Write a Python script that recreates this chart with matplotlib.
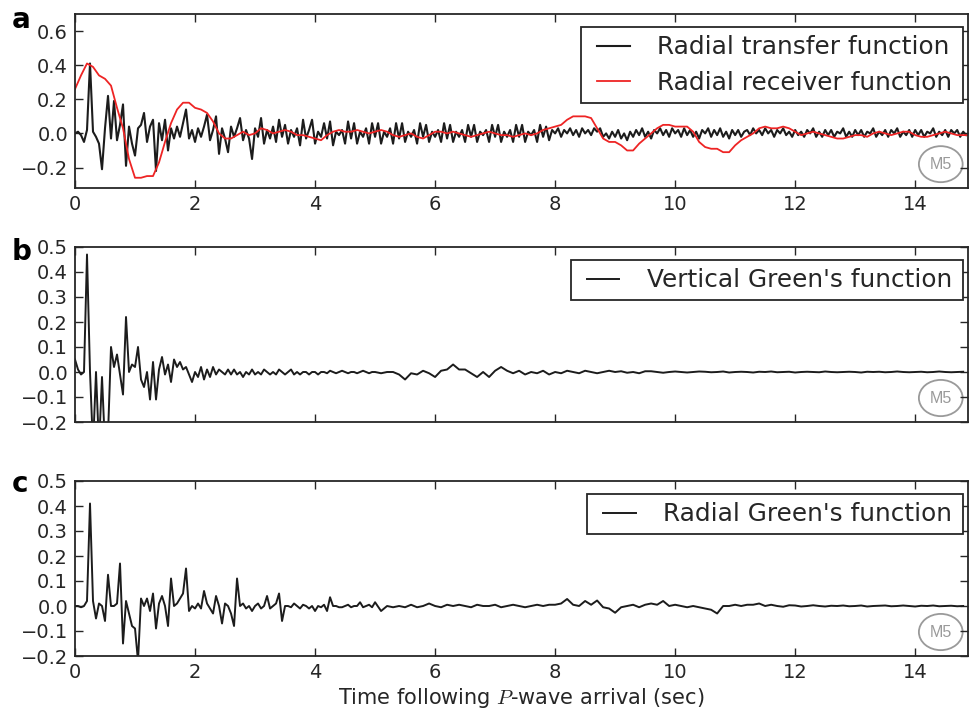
import numpy as np
import matplotlib
matplotlib.use("Agg")
import matplotlib.pyplot as plt
from matplotlib.patches import Ellipse
from matplotlib.path import Path
from matplotlib.lines import Line2D
from matplotlib.legend_handler import HandlerLine2D

# ---------------- data ----------------
# Panel a: radial transfer function, sampled every 0.05 s from 0 s
radial_transfer = [
    0.00, 0.01, -0.01, -0.05, 0.02, 0.41, 0.01, -0.02, -0.06, -0.21,
    0.03, 0.22, -0.03, 0.19, -0.04, 0.05, 0.17, -0.19, 0.04, -0.06,
    -0.13, 0.03, 0.05, 0.12, -0.05, 0.04, 0.08, -0.22, 0.06, -0.04,
    0.08, -0.10, 0.03, -0.03, 0.04, -0.02, 0.06, 0.14, -0.03, 0.02,
    -0.05, 0.03, -0.02, 0.04, 0.11, -0.04, 0.02, 0.10, -0.12, 0.03,
    -0.03, -0.11, 0.04, -0.02, 0.03, 0.09, -0.04, 0.02, -0.03, -0.15,
    0.03, -0.02, 0.09, -0.06, 0.02, -0.03, 0.04, -0.05, 0.08, -0.02,
    0.05, -0.06, 0.02, -0.02, 0.03, -0.07, 0.08, -0.03, 0.02, 0.08,
    -0.06, 0.01, -0.02, 0.06, -0.03, 0.07, -0.07, 0.01, -0.01, 0.02,
    -0.06, 0.07, -0.03, 0.06, -0.06, 0.01, -0.02, 0.03, -0.06, 0.06,
    -0.02, 0.06, -0.06, 0.01, -0.02, 0.03, -0.06, 0.06, -0.03, 0.06,
    -0.05, 0.01, -0.02, 0.02, -0.06, 0.06, -0.02, 0.05, -0.05, 0.01,
    -0.02, 0.02, -0.05, 0.06, -0.03, 0.05, -0.05, 0.01, -0.02, 0.02,
    -0.05, 0.05, -0.02, 0.05, -0.05, 0.01, -0.01, 0.02, -0.05, 0.05,
    -0.02, 0.05, -0.05, 0.01, -0.02, 0.02, -0.05, 0.05, -0.02, 0.05,
    -0.05, 0.01, -0.01, 0.02, -0.05, 0.05, -0.02, 0.04, -0.04, 0.02,
    0.00, 0.03, -0.02, 0.02, 0.00, 0.03, -0.01, 0.02, -0.02, 0.03,
    0.00, 0.02, -0.01, 0.03, 0.01, 0.03, -0.02, 0.00, -0.03, 0.01,
    -0.02, 0.02, -0.03, 0.00, -0.04, 0.01, -0.02, 0.02, -0.01, 0.03,
    -0.02, 0.01, -0.03, 0.02, 0.00, 0.03, -0.01, 0.02, -0.02, 0.03,
    0.00, 0.02, -0.02, 0.03, -0.01, 0.02, -0.02, 0.01, -0.03, 0.02,
    0.00, 0.03, -0.02, 0.02, -0.01, 0.03, -0.02, 0.01, -0.03, 0.02,
    -0.01, 0.02, -0.02, 0.01, 0.02, -0.01, 0.03, 0.00, 0.02, -0.01,
    0.03, 0.00, 0.02, -0.02, 0.02, 0.00, 0.03, -0.01, 0.01, -0.02,
    0.02, -0.01, 0.01, -0.02, 0.02, 0.00, 0.03, -0.02, 0.01, -0.02,
    0.02, -0.01, 0.02, -0.02, 0.01, 0.00, 0.03, -0.02, 0.01, -0.02,
    0.02, -0.01, 0.02, -0.02, 0.01, 0.00, 0.03, -0.02, 0.01, -0.01,
    0.02, -0.02, 0.02, 0.00, 0.03, -0.02, 0.01, -0.01, 0.02, -0.02,
    0.02, -0.01, 0.02, -0.02, 0.01, 0.00, 0.03, -0.02, 0.01, -0.01,
    0.02, -0.02, 0.02, 0.00, 0.02, -0.02, 0.01, -0.01,
]
transfer_dt = 0.05

# Panel a: radial receiver function, sampled every 0.1 s from 0 s
radial_receiver = [
    0.26, 0.34, 0.41, 0.39, 0.34, 0.32, 0.28, 0.15, 0.03, -0.15,
    -0.26, -0.26, -0.25, -0.25, -0.17, -0.05, 0.06, 0.14, 0.18, 0.18,
    0.15, 0.14, 0.12, 0.07, 0.00, -0.03, -0.03, -0.01, 0.01, -0.01,
    0.00, 0.03, 0.02, 0.00, 0.01, 0.02, 0.01, -0.01, -0.01, -0.02,
    -0.03, -0.04, -0.01, 0.01, 0.02, 0.01, 0.01, 0.02, 0.01, 0.00,
    0.01, 0.02, 0.01, -0.01, -0.02, -0.01, 0.00, -0.02, -0.03, -0.01,
    0.01, 0.01, 0.00, 0.01, 0.00, -0.01, -0.02, -0.01, 0.00, 0.01,
    0.00, -0.01, -0.01, -0.02, -0.01, 0.00, -0.01, 0.00, 0.02, 0.03,
    0.04, 0.05, 0.08, 0.10, 0.10, 0.10, 0.09, 0.03, -0.03, -0.05,
    -0.05, -0.07, -0.10, -0.10, -0.06, -0.03, 0.00, 0.03, 0.05, 0.05,
    0.04, 0.04, 0.04, 0.01, -0.05, -0.08, -0.09, -0.09, -0.11, -0.11,
    -0.07, -0.04, -0.02, 0.00, 0.03, 0.04, 0.03, 0.03, 0.04, 0.03,
    0.01, -0.01, 0.00, 0.01, 0.00, -0.01, -0.02, -0.03, -0.03, -0.02,
    -0.01, -0.01, -0.02, 0.00, 0.01, 0.00, -0.01, 0.00, 0.01, 0.01,
    -0.01, -0.02, -0.02, -0.01, 0.00, 0.01, 0.00, -0.01, -0.01, -0.01,
]
receiver_dt = 0.1

# Panel b: vertical Green's function (0-4.95 s every 0.05 s, then 5.0-14.8 s every 0.1 s)
vertical_green_early = [
    0.05, 0.01, -0.01, 0.00, 0.47, 0.00, -0.30, 0.00, -0.30, -0.02,
    -0.30, -0.25, 0.10, 0.02, 0.07, -0.01, -0.09, 0.22, 0.00, 0.03,
    0.02, 0.10, -0.03, -0.06, 0.00, -0.11, 0.04, -0.11, 0.01, 0.06,
    -0.01, 0.03, -0.04, 0.05, 0.02, 0.04, 0.01, 0.02, -0.01, -0.04,
    0.00, -0.02, 0.02, -0.03, 0.01, -0.02, 0.02, -0.01, 0.01, 0.00,
    -0.01, 0.01, -0.01, 0.01, -0.01, 0.00, -0.02, 0.00, -0.01, 0.01,
    -0.01, 0.00, -0.01, 0.01, 0.00, -0.01, 0.00, -0.01, 0.01, 0.00,
    -0.01, 0.00, 0.01, -0.01, 0.00, -0.01, 0.00, 0.00, -0.01, 0.00,
    0.00, -0.01, 0.00, 0.00, -0.005, 0.005, 0.00, -0.005, 0.00, 0.005,
    0.00, -0.005, 0.00, 0.00, -0.005, 0.00, 0.005, 0.00, -0.005, 0.00,
]
vertical_green_late = [
    0.00, -0.005, 0.00, 0.00, -0.01, -0.03, -0.005, -0.01, 0.005, -0.005,
    -0.02, 0.005, 0.01, 0.03, 0.01, 0.01, -0.005, -0.02, 0.00, -0.02,
    0.005, 0.02, 0.005, -0.005, 0.005, -0.01, 0.00, -0.005, 0.005, -0.01,
    0.00, -0.005, 0.005, 0.00, -0.005, 0.005, 0.00, -0.005, 0.00, 0.005,
    0.00, 0.003, -0.003, 0.00, -0.005, 0.003, 0.003, 0.00, -0.003, 0.00,
    0.002, 0.000, -0.002, 0.000, 0.002, 0.001, -0.001, 0.000, 0.002, -0.002,
    0.000, 0.001, 0.000, -0.002, 0.001, 0.000, 0.002, -0.001, 0.000, 0.001,
    -0.002, 0.000, 0.001, 0.000, -0.001, 0.002, 0.000, -0.001, 0.000, 0.001,
    0.000, -0.002, 0.001, 0.000, 0.001, -0.001, 0.000, 0.002, 0.000, -0.001,
    0.000, 0.001, -0.001, 0.000, 0.002, 0.000, -0.001, 0.000, 0.001,
]

# Panel c: radial Green's function (same sampling as panel b)
radial_green_early = [
    0.00, 0.00, -0.005, 0.00, 0.02, 0.41, 0.02, -0.05, 0.01, 0.00,
    -0.06, 0.125, 0.00, 0.00, 0.01, 0.17, -0.15, 0.02, -0.03, -0.08,
    -0.09, -0.22, 0.03, 0.00, 0.03, -0.02, 0.05, -0.09, 0.01, 0.04,
    0.00, -0.08, 0.11, 0.00, 0.01, 0.03, 0.05, 0.15, -0.02, 0.00,
    -0.01, 0.01, -0.01, 0.06, 0.01, -0.01, -0.03, 0.04, 0.00, -0.07,
    0.01, 0.00, -0.03, -0.08, 0.11, 0.00, 0.01, -0.01, 0.00, -0.02,
    0.00, 0.01, -0.01, 0.00, 0.04, -0.01, 0.00, 0.01, 0.05, -0.06,
    0.00, 0.00, -0.005, 0.01, 0.00, -0.01, 0.005, 0.00, -0.01, 0.00,
    -0.02, 0.00, -0.005, 0.005, -0.02, 0.035, 0.00, 0.00, -0.005, -0.005,
    0.00, 0.005, -0.005, 0.00, 0.00, 0.015, -0.005, 0.00, 0.005, -0.005,
]
radial_green_late = [
    0.015, -0.02, 0.00, -0.005, 0.00, -0.005, 0.005, -0.005, 0.00, 0.01,
    0.00, -0.005, 0.005, 0.00, 0.005, 0.00, -0.005, 0.005, 0.00, 0.00,
    0.005, -0.005, 0.00, 0.005, 0.00, -0.005, 0.00, 0.005, 0.00, 0.005,
    0.005, 0.01, 0.028, 0.005, 0.00, 0.02, 0.005, 0.022, -0.005, -0.01,
    -0.027, -0.005, 0.00, 0.005, -0.005, 0.005, 0.01, 0.005, 0.02, 0.00,
    0.005, 0.00, -0.005, 0.00, -0.005, -0.01, -0.015, -0.03, 0.00, 0.00,
    0.005, 0.00, 0.005, 0.005, 0.01, 0.00, 0.005, 0.00, -0.003, 0.003,
    0.002, -0.002, 0.000, 0.003, 0.000, -0.002, 0.001, 0.000, 0.002, -0.001,
    0.000, 0.002, -0.002, 0.000, 0.001, 0.002, -0.001, 0.000, 0.002, 0.000,
    -0.002, 0.001, 0.000, 0.002, -0.001, 0.000, 0.001, -0.001, 0.000,
]
green_early_dt = 0.05
green_late_start = 5.0
green_late_dt = 0.1

panel_letters = ["a", "b", "c"]
legend_labels_a = ["Radial transfer function", "Radial receiver function"]
legend_label_b = "Vertical Green's function"
legend_label_c = "Radial Green's function"
yticks_a = [-0.2, 0.0, 0.2, 0.4, 0.6]
yticks_bc = [-0.2, -0.1, 0.0, 0.1, 0.2, 0.3, 0.4, 0.5]
xticks = [0, 2, 4, 6, 8, 10, 12, 14]
marker_text = "M5"
xlabel = "Time following $P$-wave arrival (sec)"

# ---------------- plotting ----------------
plt.rcParams["font.family"] = ["DejaVu Sans"]
plt.rcParams["mathtext.fontset"] = "cm"

TXT = "#262626"
BLK = "#1c1c1c"
RED = "#ee2424"
GRAY = "#9a9a9a"

fig = plt.figure(figsize=(9.69, 7.16), dpi=100)
W, H = 969, 716
left = 75 / W
width = 893 / W
ax_a = fig.add_axes([left, 1 - 188 / H, width, 174 / H])
ax_b = fig.add_axes([left, 1 - 422 / H, width, 175 / H])
ax_c = fig.add_axes([left, 1 - 656 / H, width, 175 / H])


def green_time(early, late):
    t1 = np.arange(len(early)) * green_early_dt
    t2 = green_late_start + np.arange(len(late)) * green_late_dt
    return np.concatenate([t1, t2]), np.concatenate([early, late])


t_tr = np.arange(len(radial_transfer)) * transfer_dt
t_rc = np.arange(len(radial_receiver)) * receiver_dt

ax_a.plot(t_tr, radial_transfer, color=BLK, lw=1.5, label=legend_labels_a[0])
ax_a.plot(t_rc, radial_receiver, color=RED, lw=1.3, label=legend_labels_a[1])

tb, vb = green_time(vertical_green_early, vertical_green_late)
ax_b.plot(tb, vb, color=BLK, lw=1.4, label=legend_label_b)
tc, vc = green_time(radial_green_early, radial_green_late)
ax_c.plot(tc, vc, color=BLK, lw=1.4, label=legend_label_c)

ax_a.set_ylim(-0.32, 0.70)
ax_a.set_yticks(yticks_a)
for ax in (ax_b, ax_c):
    ax.set_ylim(-0.2, 0.5)
    ax.set_yticks(yticks_bc)

for ax in (ax_a, ax_b, ax_c):
    ax.set_xlim(0, 14.88)
    ax.set_xticks(xticks)
    ax.tick_params(direction="in", top=True, right=True, length=6, width=1,
                   labelsize=14, colors=TXT, pad=5)
    for s in ax.spines.values():
        s.set_linewidth(1.3)
        s.set_color(TXT)
    ax.add_patch(Ellipse((0.9695, 0.137), 0.049, 0.207, transform=ax.transAxes,
                         fill=False, edgecolor=GRAY, lw=1.3))
    ax.text(0.9695, 0.135, marker_text, transform=ax.transAxes, ha="center",
            va="center", fontsize=11.5, color=GRAY, family="Liberation Sans")

ax_b.set_xticklabels([])


class ShiftedLine(HandlerLine2D):
    """Legend line that starts a little to the right inside its handle box."""

    def __init__(self, shift, **kw):
        super().__init__(**kw)
        self.shift = shift

    def create_artists(self, legend, orig_handle, xdescent, ydescent, width,
                       height, fontsize, trans):
        s = self.shift * fontsize
        return super().create_artists(legend, orig_handle, xdescent - s,
                                      ydescent, width - s, height, fontsize,
                                      trans)


EXTRA_X = 3.0  # extra horizontal frame padding (pixels)


def wide_box(x0, y0, w, h, mutation_size):
    return Path([(x0 - EXTRA_X, y0), (x0 + w + EXTRA_X, y0),
                 (x0 + w + EXTRA_X, y0 + h), (x0 - EXTRA_X, y0 + h),
                 (x0 - EXTRA_X, y0)], closed=True)


def make_legend(ax, top_px, bottom_px, height_px):
    anchor = ((963 - EXTRA_X - 75) / 893, (bottom_px - top_px) / height_px)
    leg = ax.legend(loc="upper right", bbox_to_anchor=anchor, borderaxespad=0,
                    fontsize=17.8, handlelength=1.52, handletextpad=1.1,
                    fancybox=False, framealpha=1, edgecolor=TXT,
                    borderpad=0.33, labelspacing=0.48,
                    handler_map={Line2D: ShiftedLine(0.2)})
    leg.get_frame().set_linewidth(1.3)
    leg.legendPatch.set_boxstyle(wide_box)
    for t in leg.get_texts():
        t.set_color(TXT)
    return leg


make_legend(ax_a, 27, 188, 174)
make_legend(ax_b, 260, 422, 175)
make_legend(ax_c, 494, 656, 175)

ax_c.set_xlabel(xlabel, fontsize=15, color=TXT, labelpad=3)

fig.text(12 / W, 1 - 28 / H, panel_letters[0], fontsize=20, fontweight="bold", color="black")
fig.text(12 / W, 1 - 260 / H, panel_letters[1], fontsize=20, fontweight="bold", color="black")
fig.text(12 / W, 1 - 492 / H, panel_letters[2], fontsize=20, fontweight="bold", color="black")

fig.savefig("out.png", dpi=100)
